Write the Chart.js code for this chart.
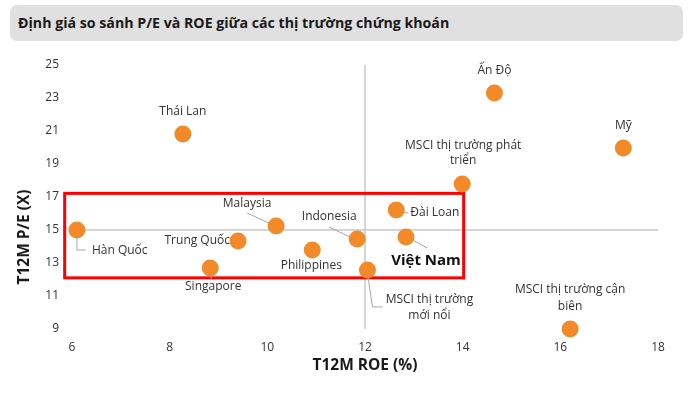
<!DOCTYPE html>
<html><head><meta charset="utf-8">
<script src="https://cdn.jsdelivr.net/npm/chart.js@4"></script>
<style>
html,body{margin:0;padding:0;background:#fff;}
#wrap{position:relative;width:689px;height:393px;overflow:hidden;}
#banner{position:absolute;left:10px;top:5px;width:673px;height:36px;background:#e0e0e0;border-radius:7px;}
#title{position:absolute;left:18px;top:5px;height:36px;line-height:36px;font-family:'Open Sans';font-weight:700;font-size:14.2px;color:#1a1a1a;white-space:nowrap;}
canvas{position:absolute;left:0;top:0;}
</style></head>
<body>
<div id="wrap">
<div id="banner"></div>
<div id="title">Định giá so sánh P/E và ROE giữa các thị trường chứng khoán</div>
<canvas id="c" width="689" height="393"></canvas>
</div>
<script>
// ---- data ----
const markets = ['Hàn Quốc','Thái Lan','Trung Quốc','Singapore','Malaysia','Philippines','Indonesia','MSCI thị trường mới nổi','Đài Loan','Việt Nam','MSCI thị trường phát triển','Ấn Độ','Mỹ','MSCI thị trường cận biên'];
const roe = [6.1, 8.27, 9.4, 8.83, 10.18, 10.92, 11.84, 12.05, 12.64, 12.84, 13.99, 14.65, 17.29, 16.2];
const pe  = [15.0, 20.82, 14.33, 12.7, 15.24, 13.79, 14.45, 12.58, 16.21, 14.58, 17.79, 23.3, 19.97, 9.0];
const xTicks = [6, 8, 10, 12, 14, 16, 18];
const yTicks = [9, 11, 13, 15, 17, 19, 21, 23, 25];
const xTitle = 'T12M ROE (%)';
const yTitle = 'T12M P/E (X)';
const crossAt = {x: 12, y: 15};
const highlightBox = {xMin: 5.85, xMax: 14.02, yMin: 12.1, yMax: 17.22};

// ---- label layout (pixel offsets relative to each point) ----
const labelLayout = [
  {dx:15, dy:21, align:'left', leader:[[0,8],[0,20],[9,20]]},          // Hàn Quốc
  {dx:0, dy:-22},                                                     // Thái Lan
  {dx:-8, dy:0, align:'right'},                                       // Trung Quốc
  {dx:3, dy:19, leader:[[0,8],[2,12]]},                               // Singapore
  {dx:-29, dy:-22, leader:[[-29,-13],[-3,-1]]},                       // Malaysia
  {dx:-1, dy:16},                                                     // Philippines
  {dx:-28, dy:-22, leader:[[-28,-12],[-5,-1]]},                       // Indonesia
  {dx:62, dy:30, lines:['MSCI thị trường','mới nổi'], lh:16, leader:[[0,3],[5,37],[15,37]]},
  {dx:14, dy:3, align:'left', leader:[[2,2],[12,3]]},                 // Đài Loan
  {dx:20, dy:24, bold:true, size:15, leader:[[1,0],[21,11]]},         // Việt Nam
  {dx:1, dy:-38, lines:['MSCI thị trường phát','triển'], lh:15},
  {dx:0, dy:-22},                                                     // Ấn Độ
  {dx:0, dy:-22},                                                     // Mỹ
  {dx:0, dy:-39, lines:['MSCI thị trường cận','biên'], lh:17}
];

const FONT = "'Open Sans'";
const points = roe.map((r, i) => ({x: r, y: pe[i]}));

const decor = {
  id: 'decor',
  beforeDatasetsDraw(chart) {
    const {ctx, chartArea: a, scales: {x, y}} = chart;
    ctx.save();
    ctx.strokeStyle = '#c8c8c8';
    ctx.lineWidth = 1.5;
    const cx = x.getPixelForValue(crossAt.x), cy = y.getPixelForValue(crossAt.y);
    ctx.beginPath();
    ctx.moveTo(cx, a.top); ctx.lineTo(cx, a.bottom);
    ctx.moveTo(a.left, cy); ctx.lineTo(a.right, cy);
    ctx.stroke();
    const x0 = x.getPixelForValue(highlightBox.xMin), x1 = x.getPixelForValue(highlightBox.xMax);
    const y0 = y.getPixelForValue(highlightBox.yMax), y1 = y.getPixelForValue(highlightBox.yMin);
    ctx.strokeStyle = '#ff0000';
    ctx.lineWidth = 3;
    ctx.strokeRect(x0, y0, x1 - x0, y1 - y0);
    ctx.strokeStyle = '#a6a6a6';
    ctx.lineWidth = 1;
    labelLayout.forEach((L, i) => {
      if (!L.leader) return;
      const px = x.getPixelForValue(roe[i]), py = y.getPixelForValue(pe[i]);
      ctx.beginPath();
      L.leader.forEach((p, k) => { if (k === 0) ctx.moveTo(px + p[0], py + p[1]); else ctx.lineTo(px + p[0], py + p[1]); });
      ctx.stroke();
    });
    ctx.restore();
  },
  afterDatasetsDraw(chart) {
    const {ctx, scales: {x, y}} = chart;
    ctx.save();
    ctx.textBaseline = 'middle';
    labelLayout.forEach((L, i) => {
      const px = x.getPixelForValue(roe[i]), py = y.getPixelForValue(pe[i]);
      ctx.font = (L.bold ? '700 ' : '400 ') + (L.size || 12) + 'px ' + FONT;
      ctx.fillStyle = L.bold ? '#111111' : '#333333';
      ctx.textAlign = L.align || 'center';
      const lines = L.lines || [markets[i]];
      lines.forEach((t, k) => ctx.fillText(t, px + L.dx, py + L.dy + k * (L.lh || 15)));
    });
    ctx.font = '700 15.5px ' + FONT;
    ctx.fillStyle = '#1a1a1a';
    ctx.textAlign = 'center';
    ctx.fillText(xTitle, 365, 366);
    ctx.translate(25, 237);
    ctx.rotate(-Math.PI / 2);
    ctx.fillText(yTitle, 0, 0);
    ctx.restore();
  }
};

new Chart(document.getElementById('c'), {
  type: 'scatter',
  data: {
    datasets: [{
      data: points,
      backgroundColor: '#f28a2a',
      borderColor: '#f28a2a',
      pointRadius: 8.5,
      pointHoverRadius: 8.5,
      borderWidth: 0,
      clip: false
    }]
  },
  options: {
    responsive: false,
    animation: false,
    events: [],
    layout: {padding: {top: 65, right: 31, left: 0, bottom: 0}},
    plugins: {legend: {display: false}, tooltip: {enabled: false}},
    scales: {
      x: {
        type: 'linear', min: 6, max: 18,
        grid: {display: false, drawTicks: false},
        border: {display: false},
        afterBuildTicks: s => { s.ticks = xTicks.map(v => ({value: v})); },
        afterFit: s => { s.height = 64; },
        ticks: {padding: 11, color: '#333333', font: {family: FONT, size: 12}}
      },
      y: {
        type: 'linear', min: 9, max: 25,
        grid: {display: false, drawTicks: false},
        border: {display: false},
        afterBuildTicks: s => { s.ticks = yTicks.map(v => ({value: v})); },
        afterFit: s => { s.width = 72; },
        ticks: {padding: 13, color: '#333333', font: {family: FONT, size: 12}}
      }
    }
  },
  plugins: [decor]
});
</script>
</body></html>
